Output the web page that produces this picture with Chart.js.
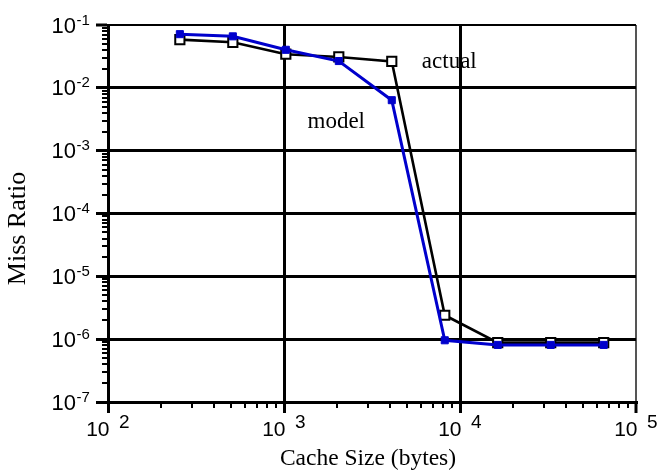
<!DOCTYPE html>
<html><head><meta charset="utf-8">
<script src="https://cdn.jsdelivr.net/npm/chart.js@4"></script>
<style>html,body{margin:0;padding:0;background:#fff}canvas{display:block}</style>
</head><body>
<canvas id="c" width="660" height="474"></canvas>
<script>
const cacheSizes = [256, 512, 1024, 2048, 4096, 8192, 16384, 32768, 65536];
const actualMiss = [0.0586, 0.053, 0.0343, 0.031, 0.0263, 2.4e-6, 0.88e-6, 0.88e-6, 0.88e-6];
const modelMiss = [0.0715, 0.066, 0.0403, 0.0267, 0.00636, 0.96e-6, 0.81e-6, 0.81e-6, 0.81e-6];
const xDecadeExps = [2, 3, 4, 5];
const yDecadeExps = [-7, -6, -5, -4, -3, -2, -1];
const minorFactors = [2, 3, 4, 5, 6, 7, 8, 9];
const annotationTexts = ['actual', 'model'];
const annotationX = [6070, 1360];
const annotationY = [0.0208, 0.0023];
const xTitle = 'Cache Size (bytes)';
const yTitle = 'Miss Ratio';

function buildTicks(exps) {
  const t = [];
  exps.forEach((e, i) => {
    const b = Number('1e' + e);
    t.push({value: b, major: true});
    if (i < exps.length - 1) minorFactors.forEach(f => t.push({value: Number(f + 'e' + e), major: false}));
  });
  return t;
}
const isMajor = c => !!(c.tick && c.tick.major);

const decor = {
  id: 'decor',
  afterDraw(chart) {
    const {ctx, scales: {x, y}, chartArea: ca} = chart;
    ctx.save();
    ctx.strokeStyle = '#000';
    ctx.lineWidth = 2;
    x.ticks.forEach(t => {
      if (t.major) return;
      const px = Math.round(x.getPixelForValue(t.value));
      ctx.beginPath(); ctx.moveTo(px, ca.bottom); ctx.lineTo(px, ca.bottom + 6); ctx.stroke();
    });
    y.ticks.forEach(t => {
      if (t.major) return;
      const py = Math.round(y.getPixelForValue(t.value));
      ctx.beginPath(); ctx.moveTo(ca.left, py); ctx.lineTo(ca.left - 6, py); ctx.stroke();
    });
    ctx.fillStyle = '#000';
    ctx.textBaseline = 'alphabetic';
    xDecadeExps.forEach(e => {
      const px = x.getPixelForValue(Number('1e' + e));
      ctx.font = '21px "Liberation Sans", Arial, sans-serif';
      ctx.textAlign = 'right';
      ctx.fillText('10', px + 1.5, ca.bottom + 34);
      ctx.font = '19px "Liberation Sans", Arial, sans-serif';
      ctx.textAlign = 'left';
      ctx.fillText(String(e), px + 11, ca.bottom + 26);
    });
    yDecadeExps.forEach(e => {
      const py = y.getPixelForValue(Number('1e' + e));
      ctx.font = '22px "Liberation Sans", Arial, sans-serif';
      ctx.textAlign = 'right';
      ctx.fillText('10', ca.left - 32, py + 7.5);
      ctx.font = '15px "Liberation Sans", Arial, sans-serif';
      ctx.textAlign = 'left';
      ctx.fillText(String(e), ca.left - 31.5, py - 0.5);
    });
    ctx.font = '23px "Liberation Serif", "Times New Roman", serif';
    ctx.textAlign = 'left';
    annotationTexts.forEach((s, i) => {
      ctx.fillText(s, x.getPixelForValue(annotationX[i]), y.getPixelForValue(annotationY[i]));
    });
    ctx.font = '23.5px "Liberation Serif", "Times New Roman", serif';
    ctx.textAlign = 'center';
    ctx.fillText(xTitle, 368, 465);
    ctx.save();
    ctx.translate(25, 228.5);
    ctx.rotate(-Math.PI / 2);
    ctx.font = '26px "Liberation Serif", "Times New Roman", serif';
    ctx.fillText(yTitle, 0, 0);
    ctx.restore();
    ctx.restore();
  }
};

new Chart(document.getElementById('c'), {
  type: 'line',
  data: {
    datasets: [
      {
        label: 'model',
        data: cacheSizes.map((v, i) => ({x: v, y: modelMiss[i]})),
        borderColor: '#0000cc', backgroundColor: '#0000cc', borderWidth: 3,
        pointStyle: 'rect', pointRadius: 5, pointBorderWidth: 1,
        pointBackgroundColor: '#0000cc', pointBorderColor: '#0000cc', tension: 0, clip: false
      },
      {
        label: 'actual',
        data: cacheSizes.map((v, i) => ({x: v, y: actualMiss[i]})),
        borderColor: '#000', backgroundColor: '#fff', borderWidth: 2.6,
        pointStyle: 'rect', pointRadius: 6.5, pointBorderWidth: 2,
        pointBackgroundColor: '#fff', pointBorderColor: '#000', tension: 0, clip: false
      }
    ]
  },
  options: {
    responsive: false, animation: false, devicePixelRatio: 1,
    layout: {padding: {left: 96, top: 25, right: 24, bottom: 61}},
    plugins: {legend: {display: false}, tooltip: {enabled: false}},
    scales: {
      x: {
        type: 'logarithmic', min: 100, max: 100000,
        afterBuildTicks: a => { a.ticks = buildTicks(xDecadeExps); },
        ticks: {display: false},
        grid: {
          color: c => isMajor(c) ? (c.tick.value === 1e5 ? '#555' : '#000') : 'rgba(0,0,0,0)',
          lineWidth: c => isMajor(c) ? (c.tick.value === 1e5 ? 2 : 3) : 0,
          tickLength: 11,
          tickColor: c => isMajor(c) ? '#000' : 'rgba(0,0,0,0)',
          tickWidth: 3
        },
        border: {display: true, color: '#000', width: 3}
      },
      y: {
        type: 'logarithmic', min: 1e-7, max: 1e-1,
        afterBuildTicks: a => { a.ticks = buildTicks(yDecadeExps); },
        ticks: {display: false},
        grid: {
          color: c => isMajor(c) ? '#000' : 'rgba(0,0,0,0)',
          lineWidth: c => isMajor(c) ? (c.tick.value === 1e-1 ? 2 : 3) : 0,
          tickLength: 12,
          tickColor: c => isMajor(c) ? '#000' : 'rgba(0,0,0,0)',
          tickWidth: 3
        },
        border: {display: true, color: '#000', width: 3}
      }
    }
  },
  plugins: [decor]
});
</script>
</body></html>
